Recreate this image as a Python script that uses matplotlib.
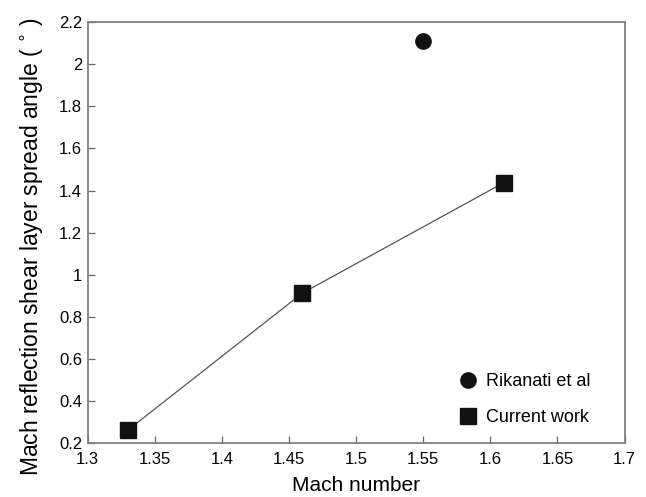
import matplotlib
matplotlib.use("Agg")
import matplotlib.pyplot as plt
from matplotlib.lines import Line2D

plt.rcParams['font.family'] = ['Liberation Sans', 'DejaVu Sans']

current_x = [1.33, 1.46, 1.61]
current_y = [0.263, 0.913, 1.437]
rik_x = [1.55]
rik_y = [2.11]
xticks = [1.3, 1.35, 1.4, 1.45, 1.5, 1.55, 1.6, 1.65, 1.7]
xticklabels = ['1.3', '1.35', '1.4', '1.45', '1.5', '1.55', '1.6', '1.65', '1.7']
yticks = [0.2, 0.4, 0.6, 0.8, 1.0, 1.2, 1.4, 1.6, 1.8, 2.0, 2.2]
yticklabels = ['0.2', '0.4', '0.6', '0.8', '1', '1.2', '1.4', '1.6', '1.8', '2', '2.2']
legend_labels = ['Rikanati et al', 'Current work']

W, H = 646, 497
fig = plt.figure(figsize=(W / 100, H / 100), dpi=100)
L, R, T, B = 87.7, 624.5, 22.0, 443.3
ax = fig.add_axes([L / W, 1 - B / H, (R - L) / W, (B - T) / H])

ax.plot(current_x, current_y, color='#555555', lw=0.9, zorder=2)
ax.plot(current_x, current_y, 's', color='#111111', ms=11.2, ls='none', zorder=3)
ax.plot(rik_x, rik_y, 'o', color='#111111', ms=11, ls='none', zorder=3)

ax.set_xlim(1.3, 1.7)
ax.set_ylim(0.2, 2.2)
ax.set_xticks(xticks)
ax.set_xticklabels(xticklabels)
ax.set_yticks(yticks)
ax.set_yticklabels(yticklabels)
ax.tick_params(direction='in', length=5, width=0.9, color='#666666', labelsize=12,
               top=False, right=False)
ax.tick_params(axis='x', pad=6.5)
ax.tick_params(axis='y', pad=4)
for s in ax.spines.values():
    s.set_color('#808080')
    s.set_linewidth(1.3)

ax.set_xlabel('Mach number', fontsize=15, labelpad=6)
ax.set_ylabel('Mach reflection shear layer spread angle ( $^{\\circ}$ )', fontsize=16.5)
ax.yaxis.set_label_coords((45 - L) / (R - L), (B - 246.5) / (B - T))

handles = [Line2D([], [], marker='o', color='#111111', ls='none', ms=11),
           Line2D([], [], marker='s', color='#111111', ls='none', ms=11)]
ax.legend(handles, legend_labels, loc='center left',
          bbox_to_anchor=(447.6 / W, 1 - 399.4 / H), bbox_transform=fig.transFigure,
          borderaxespad=0, frameon=False, fontsize=13, handletextpad=0.2,
          labelspacing=1.05, handlelength=1.5)

fig.savefig('out.png', dpi=100)
